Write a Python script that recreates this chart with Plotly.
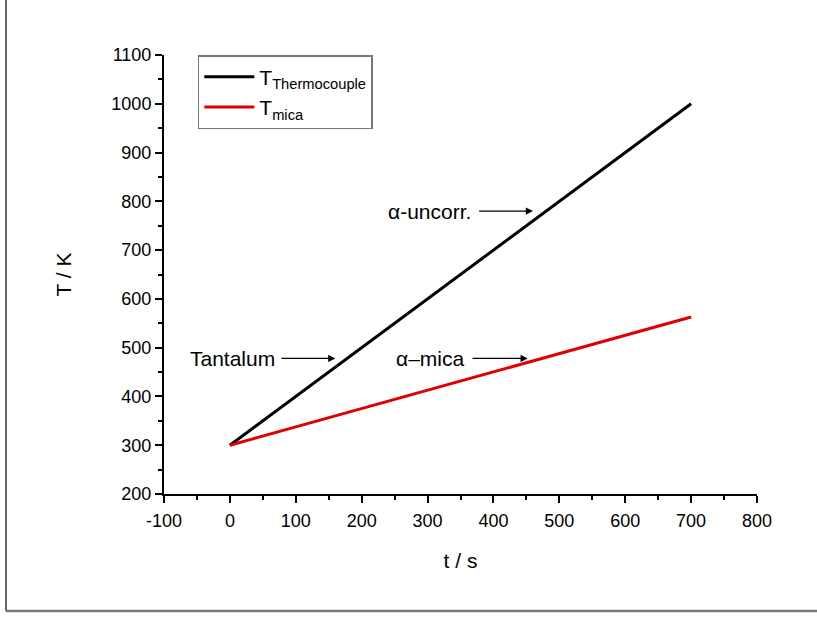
import plotly.graph_objects as go

# Time axis (s) and temperature traces (K)
t_s = [0, 700]
T_thermocouple = [300, 1000]
T_mica = [300, 563]

x_ticks = [-100, 0, 100, 200, 300, 400, 500, 600, 700, 800]
x_ticklabels = ["-100", "0", "100", "200", "300", "400", "500", "600", "700", "800"]
y_ticks = [200, 300, 400, 500, 600, 700, 800, 900, 1000, 1100]

# Labelled arrows: (text, text x, text y, arrow tail x, arrow head x)
labels = [
    ("\u03b1-uncorr.", 369, 780, 376, 460),
    ("Tantalum", 72, 478, 76, 160),
    ("\u03b1\u2013mica", 358, 478, 366, 452),
]

fig = go.Figure()
fig.add_trace(go.Scatter(x=t_s, y=T_thermocouple, mode="lines",
                         line=dict(color="black", width=3),
                         name="T<sub>Thermocouple</sub>"))
fig.add_trace(go.Scatter(x=t_s, y=T_mica, mode="lines",
                         line=dict(color="#e00000", width=3),
                         name="T<sub>mica</sub>"))

for text, tx, ty, a0, a1 in labels:
    fig.add_annotation(x=tx, y=ty, text=text, showarrow=False,
                       xanchor="right", yanchor="middle",
                       font=dict(size=21, color="black"))
    fig.add_annotation(x=a1, y=ty, ax=a0, ay=ty, axref="x", ayref="y",
                       text="", showarrow=True, arrowhead=2, arrowsize=1.1,
                       arrowwidth=1.3, arrowcolor="black")

axis_common = dict(showline=True, linecolor="black", linewidth=2,
                   ticks="outside", ticklen=7, tickwidth=2, tickcolor="black",
                   showgrid=False, zeroline=False,
                   tickfont=dict(family="Arial, Liberation Sans", size=18, color="black"),
                   mirror=False)

fig.update_xaxes(range=[-100, 800], tickvals=x_ticks, ticktext=x_ticklabels,
                 ticklabelstandoff=2,
                 title=dict(text="t / s", font=dict(size=21, color="black"), standoff=24),
                 minor=dict(ticks="outside", ticklen=4, tickwidth=2, dtick=50,
                            tickcolor="black", showgrid=False),
                 **axis_common)
fig.update_yaxes(range=[200, 1100], tickvals=y_ticks,
                 title=dict(text="T / K", font=dict(size=21, color="black"), standoff=34),
                 minor=dict(ticks="outside", ticklen=4, tickwidth=2, dtick=50,
                            tickcolor="black", showgrid=False),
                 **axis_common)

# Frame lines on the left and bottom of the figure
fig.add_shape(type="line", xref="paper", yref="paper",
              x0=-0.2664, x1=-0.2664, y0=-0.2665, y1=1.2,
              line=dict(color="#333", width=1.5))
fig.add_shape(type="line", xref="paper", yref="paper",
              x0=-0.2664, x1=1.2, y0=-0.2665, y1=-0.2665,
              line=dict(color="#777", width=2.5))

fig.update_layout(
    width=817, height=617,
    margin=dict(l=164, r=60, t=55, b=123),
    paper_bgcolor="white", plot_bgcolor="white",
    font=dict(family="Arial, Liberation Sans", color="black"),
    showlegend=True,
    legend=dict(x=0.057, y=1.0, xanchor="left", yanchor="top",
                bordercolor="#777", borderwidth=1.5, bgcolor="white",
                font=dict(size=21, color="black"), tracegroupgap=0,
                itemwidth=50),
)

fig.write_html("out.html")
